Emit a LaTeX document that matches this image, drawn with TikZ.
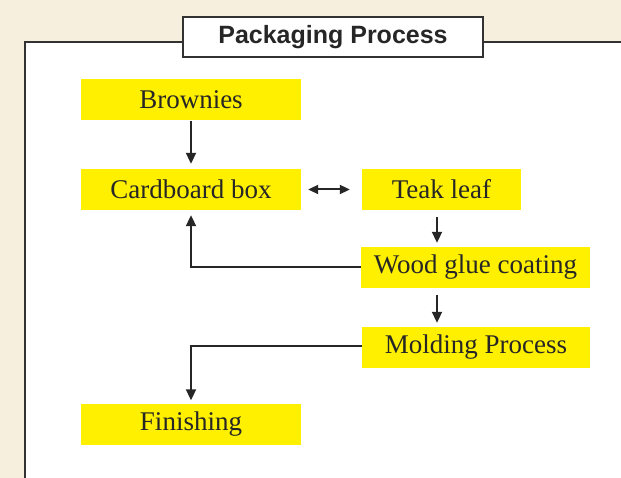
\documentclass[tikz,border=0pt]{standalone}
\usepackage{fontspec}
\setmainfont{Liberation Serif}
\newfontfamily\titlefont{Liberation Sans}
\usetikzlibrary{arrows.meta,calc}
\definecolor{bgcream}{RGB}{247,239,221}
\definecolor{boxyellow}{RGB}{255,240,0}
\definecolor{framegray}{RGB}{50,50,50}
\tikzset{
  stepbox/.style={fill=boxyellow, draw=none, minimum height=41pt, inner sep=0pt,
    font=\fontsize{27}{30}\selectfont, text=black!85},
  conn/.style={line width=2pt, draw=black!85, -{Triangle[length=11pt,width=10pt]}},
  biconn/.style={line width=2pt, draw=black!85, {Triangle[length=10pt,width=9pt]}-{Triangle[length=10pt,width=9pt]}}
}
\begin{document}
\begin{tikzpicture}[x=1pt,y=-1pt]
\useasboundingbox (0,0) rectangle (621,478);
\clip (0,0) rectangle (621,478);
\fill[bgcream] (0,0) rectangle (621,478);
% outer frame
\draw[framegray, line width=1.3pt, fill=white] (25,42) rectangle (640,500);
% title
\node[draw=framegray, line width=1.3pt, fill=white, minimum width=300pt, minimum height=40pt, inner sep=0pt,
  font=\titlefont\bfseries\fontsize{25}{28}\selectfont, text=black!85] (title) at (333,37) {Packaging Process};
% steps
\node[stepbox, minimum width=220pt] (brownies) at (191,100) {Brownies};
\node[stepbox, minimum width=220pt] (cardboard) at (191,189.5) {Cardboard box};
\node[stepbox, minimum width=159pt] (teak) at (441.5,189.5) {Teak leaf};
\node[stepbox, minimum width=229pt] (glue) at (475.5,267.5) {Wood glue coating};
\node[stepbox, minimum width=228pt] (molding) at (476,347.5) {Molding Process};
\node[stepbox, minimum width=220pt] (finishing) at (191,424) {Finishing};
% connectors
\draw[conn, shorten >=5pt] (brownies.south) -- (cardboard.north);
\draw[biconn, shorten <=7pt, shorten >=12pt] (cardboard.east) -- (teak.west);
\coordinate (c1) at (437,0);
\draw[conn, shorten <=7pt, shorten >=4pt] (teak.south -| c1) -- (glue.north -| c1);
\draw[conn, shorten <=7pt, shorten >=4pt] (glue.south -| c1) -- (molding.north -| c1);
\draw[conn, shorten >=5pt] (glue.west) -| (cardboard.south);
\draw[conn, shorten >=3pt] ($(molding.west)+(0,-2)$) -| (finishing.north);
\end{tikzpicture}
\end{document}
